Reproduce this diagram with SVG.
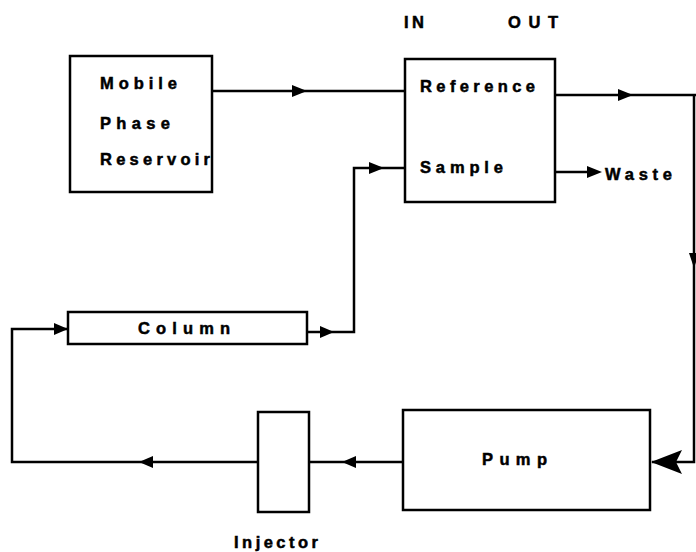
<svg xmlns="http://www.w3.org/2000/svg" width="696" height="552" viewBox="0 0 696 552">
<style>
.box{fill:#fff;stroke:#000;stroke-width:2.5}
.ln{fill:none;stroke:#000;stroke-width:2.5}
.t{font-family:"Liberation Sans",Arial,sans-serif;font-weight:bold;font-size:16.5px;fill:#000;stroke:#000;stroke-width:0.5}
.ah{fill:#000}
</style>
<rect width="696" height="552" fill="#fff"/>
<g id="connectors">
  <path class="ln" d="M212,91 H405"/>
  <polygon class="ah" points="307,91 292,85 292,97"/>
  <path class="ln" d="M555,95 H696"/>
  <polygon class="ah" points="633,95 618,89 618,101"/>
  <path class="ln" d="M555,172 H590"/>
  <polygon class="ah" points="602,172 587,166 587,178"/>
  <path class="ln" d="M307,332 H354 V168 H405"/>
  <polygon class="ah" points="334,332 320,326 320,338"/>
  <polygon class="ah" points="384,168 369,162 369,174"/>
  <path class="ln" d="M694,95 V462 H652"/>
  <polygon class="ah" points="694,268 689,253 699,253"/>
  <polygon class="ah" points="651,462 682,450 676,462 682,474"/>
  <path class="ln" d="M403,462 H309"/>
  <polygon class="ah" points="342,462 356,456 356,468"/>
  <path class="ln" d="M258,462 H12 V329 H68"/>
  <polygon class="ah" points="139,462 153,456 153,468"/>
  <polygon class="ah" points="68,329 54,323 54,335"/>
</g>
<g id="reservoir">
  <rect class="box" x="70" y="56" width="142" height="136"/>
  <text class="t" x="100" y="89" textLength="77" lengthAdjust="spacing">Mobile</text>
  <text class="t" x="100" y="129" textLength="70" lengthAdjust="spacing">Phase</text>
  <text class="t" x="100" y="165" textLength="110" lengthAdjust="spacing">Reservoir</text>
</g>
<g id="detector">
  <rect class="box" x="405" y="59" width="150" height="143"/>
  <text class="t" x="404" y="28" textLength="20" lengthAdjust="spacing">IN</text>
  <text class="t" x="508" y="28" textLength="50" lengthAdjust="spacing">OUT</text>
  <text class="t" x="420" y="92" textLength="115" lengthAdjust="spacing">Reference</text>
  <text class="t" x="420" y="173" textLength="83" lengthAdjust="spacing">Sample</text>
</g>
<g id="waste">
  <text class="t" x="605" y="180" textLength="67" lengthAdjust="spacing">Waste</text>
</g>
<g id="column">
  <rect class="box" x="68" y="312" width="239" height="32"/>
  <text class="t" x="138" y="334" textLength="92" lengthAdjust="spacing">Column</text>
</g>
<g id="injector">
  <rect class="box" x="258" y="412" width="51" height="100"/>
  <text class="t" x="234" y="548" textLength="84" lengthAdjust="spacing">Injector</text>
</g>
<g id="pump">
  <rect class="box" x="403" y="410" width="247" height="100"/>
  <text class="t" x="482" y="465" textLength="65" lengthAdjust="spacing">Pump</text>
</g>
</svg>
